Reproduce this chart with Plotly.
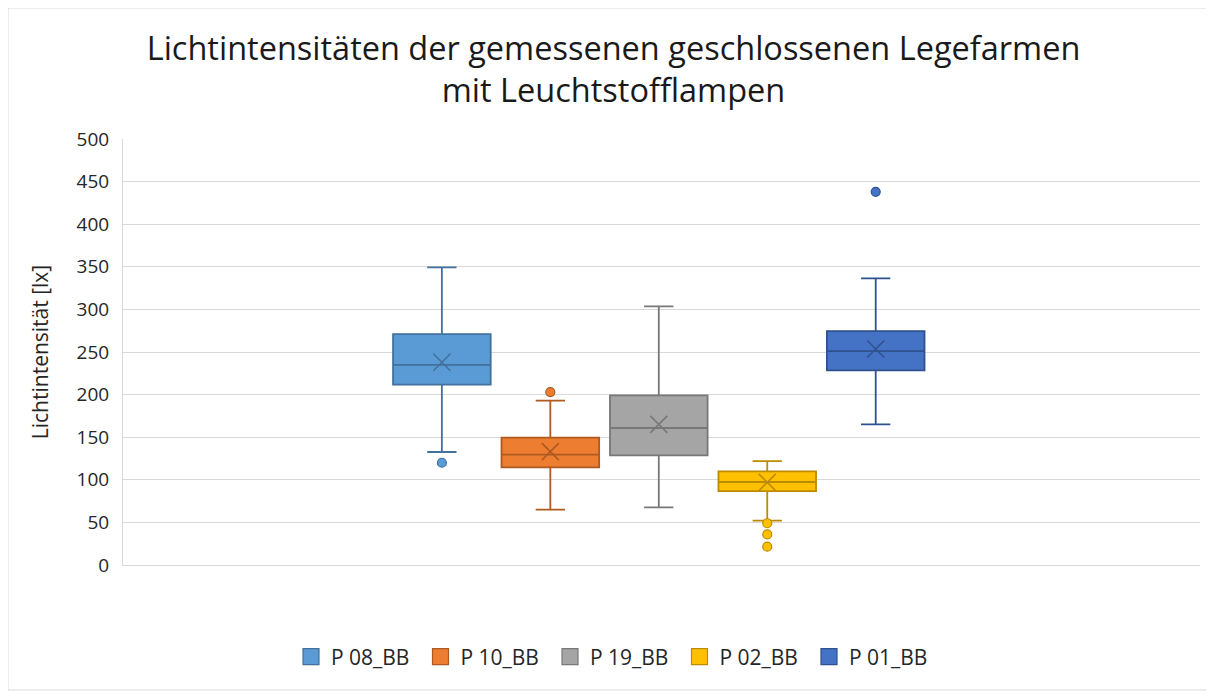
import plotly.graph_objects as go

series = ["P 08_BB", "P 10_BB", "P 19_BB", "P 02_BB", "P 01_BB"]
q1 = [211.6, 114.6, 128.7, 86.8, 228.5]
median = [235.0, 129.5, 160.8, 97.4, 251.0]
q3 = [271.0, 149.5, 199.0, 110.0, 274.6]
lower = [132.6, 65.0, 67.7, 52.0, 165.0]
upper = [349.4, 193.0, 303.6, 122.0, 336.5]
mean = [238.0, 133.0, 165.0, 97.0, 253.5]
outliers = [[120.0], [203.0], [], [49.0, 36.0, 21.5], [438.0]]

fill_colors = ["#5B9BD5", "#ED7D31", "#A5A5A5", "#FFC000", "#4472C4"]
dark_colors = ["#41719C", "#AE5A21", "#787878", "#BC8C00", "#2F528F"]

FONT = "Open Sans, sans-serif"
TXT = "#262626"

# page has an 8px body margin; compensate so the plot lands where the reference has it
W, H = 1206, 689
L, R, T, B = 115, 14, 131, 132
PW, PH = W - L - R, H - T - B

fig = go.Figure()
for i, name in enumerate(series):
    fig.add_trace(go.Box(
        x=[i], q1=[q1[i]], median=[median[i]], q3=[q3[i]],
        lowerfence=[lower[i]], upperfence=[upper[i]],
        name=name, fillcolor=fill_colors[i],
        line=dict(color=dark_colors[i], width=1.8),
        width=0.9, whiskerwidth=0.3, boxpoints=False,
        legendgroup=name, showlegend=False, hoverinfo="skip",
    ))
    fig.add_trace(go.Scatter(
        x=[i], y=[mean[i]], mode="markers",
        marker=dict(symbol="x-thin", size=17, line=dict(color=dark_colors[i], width=1.6)),
        legendgroup=name, showlegend=False, hoverinfo="skip",
    ))
    if outliers[i]:
        fig.add_trace(go.Scatter(
            x=[i] * len(outliers[i]), y=outliers[i], mode="markers",
            marker=dict(symbol="circle", size=9, color=fill_colors[i],
                        line=dict(color=dark_colors[i], width=1.2)),
            legendgroup=name, showlegend=False, hoverinfo="skip",
        ))
    # legend entry (square swatch like the reference)
    fig.add_trace(go.Scatter(
        x=[None], y=[None], mode="markers", name=name,
        marker=dict(symbol="square", size=16, color=fill_colors[i],
                    line=dict(color=dark_colors[i], width=1.2)),
        legendgroup=name, showlegend=True, hoverinfo="skip",
    ))

legend_center_page = 615
fig.update_layout(
    width=W, height=H,
    paper_bgcolor="white", plot_bgcolor="white",
    margin=dict(l=L, r=R, t=T, b=B),
    title=dict(
        text="Lichtintensitäten der gemessenen geschlossenen Legefarmen<br>mit Leuchtstofflampen",
        x=(613.5 - 8) / W, xref="container", xanchor="center",
        y=1 - (60 - 8) / H, yref="container", yanchor="middle",
        font=dict(family=FONT, size=32.5, color="#1a1a1a"),
    ),
    font=dict(family=FONT, color=TXT),
    showlegend=True,
    legend=dict(
        orientation="h", x=(legend_center_page - 8 - L) / PW, xanchor="center",
        y=-(657 - 565) / PH, yanchor="middle",
        font=dict(family=FONT, size=21, color=TXT),
        itemwidth=30, tracegroupgap=0, entrywidth=84.5, entrywidthmode="pixels",
    ),
    xaxis=dict(
        range=[-2.94, 6.99], showticklabels=False, showgrid=False,
        zeroline=False, showline=True, linecolor="#D9D9D9", linewidth=1,
        ticks="",
    ),
    yaxis=dict(
        range=[0, 500], tickmode="linear", dtick=50, tick0=0,
        showgrid=True, gridcolor="#D9D9D9", gridwidth=1.3,
        zeroline=False, showline=True, linecolor="#D9D9D9", linewidth=1,
        tickfont=dict(family=FONT, size=19, color=TXT),
        ticks="", ticklabelstandoff=9,
        title=dict(text="Lichtintensität [lx]", font=dict(family=FONT, size=21, color=TXT), standoff=22),
    ),
    shapes=[dict(type="rect", xref="paper", yref="paper",
                 x0=-L / PW, x1=(1207 - 8 - L) / PW,
                 y0=-(690 - 565) / PH, y1=(565 - 8) / PH,
                 line=dict(color="#D9D9D9", width=1), layer="below")],
)

fig.write_html("out.html")
